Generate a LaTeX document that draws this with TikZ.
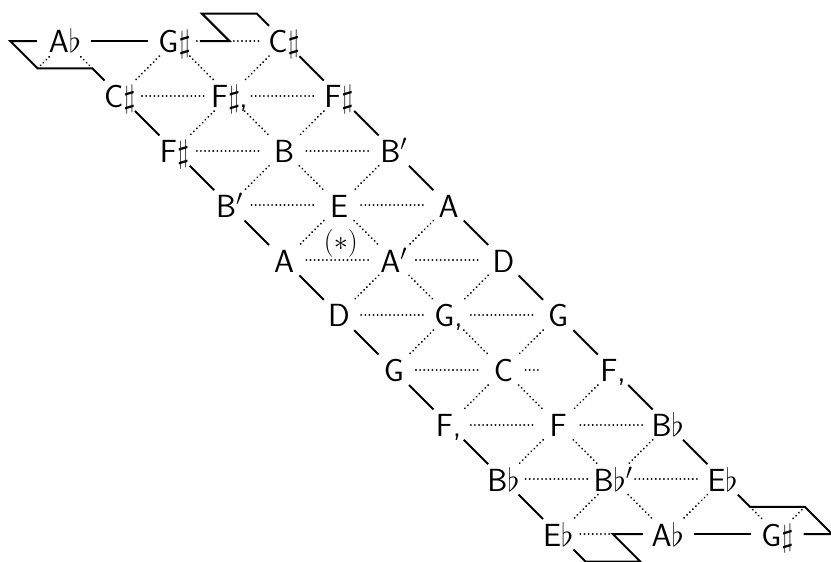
\documentclass[tikz,border=0pt]{standalone}
\usepackage{fix-cm}
\usetikzlibrary{calc}
\tikzset{
  nd/.style={rectangle, inner sep=0pt, minimum width=44pt, minimum height=30pt,
    text height=23.6pt, text depth=0pt, font=\fontsize{32}{37}\selectfont\sffamily},
  dotl/.style={line width=2.1pt, line cap=round, dash pattern=on 0.01pt off 4.1pt},
  bd/.style={line width=2pt, line cap=butt, line join=miter},
  starlbl/.style={inner sep=0pt, font=\fontsize{28}{32}\selectfont},
}
\begin{document}
\begin{tikzpicture}[x=1pt,y=-1pt]
\useasboundingbox (0,0) rectangle (831,562);
\clip (0,0) rectangle (831,562);
\begin{scope}[shift={(65,41)}, x={(109.6pt,0pt)}, y={(54.8pt,-54.8pt)}]
\node[nd] (L0) at (0,0) {A$\flat$};
\node[nd] (M0) at (1,0) {G$\sharp$};
\node[nd] (R0) at (2,0) {C$\sharp$};
\node[nd] (L1) at (0,1) {C$\sharp$};
\node[nd] (M1) at (1,1) {F$\sharp$\kern-1pt,};
\node[nd] (R1) at (2,1) {F$\sharp$};
\node[nd] (L2) at (0,2) {F$\sharp$};
\node[nd] (M2) at (1,2) {B};
\node[nd] (R2) at (2,2) {B$'$};
\node[nd] (L3) at (0,3) {B$'$};
\node[nd] (M3) at (1,3) {E};
\node[nd] (R3) at (2,3) {A};
\node[nd] (L4) at (0,4) {A};
\node[nd] (M4) at (1,4) {A$'$};
\node[nd] (R4) at (2,4) {D};
\node[nd] (L5) at (0,5) {D};
\node[nd] (M5) at (1,5) {G,};
\node[nd] (R5) at (2,5) {G};
\node[nd] (L6) at (0,6) {G};
\node[nd] (M6) at (1,6) {C};
\node[nd] (R6) at (2,6) {F,};
\node[nd] (L7) at (0,7) {F,};
\node[nd] (M7) at (1,7) {F};
\node[nd] (R7) at (2,7) {B$\flat$};
\node[nd] (L8) at (0,8) {B$\flat$};
\node[nd] (M8) at (1,8) {B$\flat'$};
\node[nd] (R8) at (2,8) {E$\flat$};
\node[nd] (L9) at (0,9) {E$\flat$};
\node[nd] (M9) at (1,9) {A$\flat$};
\node[nd] (R9) at (2,9) {G$\sharp$};
\node[starlbl] (star) at (0.667,3.7) {$(*)$};
\coordinate (tl1) at (0,0.5);
\coordinate (tl2) at (-0.5,0.5);
\coordinate (tl3) at (-0.5,0);
\coordinate (tr1) at (1.5,0);
\coordinate (tr2) at (1.5,-0.5);
\coordinate (tr3) at (2,-0.5);
\coordinate (br1) at (2,8.5);
\coordinate (br2) at (2.5,8.5);
\coordinate (br3) at (2.5,9);
\coordinate (bl1) at (0.5,9);
\coordinate (bl2) at (0.5,9.5);
\coordinate (bl3) at (0,9.5);
\coordinate (cs) at (1.32,6);
% dotted horizontals
\foreach \j in {1,...,9} \draw[dotl] (L\j) -- (M\j);
\foreach \j in {0,1,2,3,4,5,7,8} \draw[dotl] (M\j) -- (R\j);
\draw[dotl] (M6) -- (cs);
% dotted diagonals
\foreach \j in {0,...,8}{
  \pgfmathtruncatemacro\k{\j+1}
  \draw[dotl] (M\j) -- (L\k);
  \draw[dotl] (M\j) -- (M\k);
  \draw[dotl] (R\j) -- (M\k);
}
% solid boundaries
\foreach \j in {1,...,8}{
  \pgfmathtruncatemacro\k{\j+1}
  \draw[bd] (L\j) -- (L\k);
}
\foreach \j in {0,...,7}{
  \pgfmathtruncatemacro\k{\j+1}
  \draw[bd] (R\j) -- (R\k);
}
\draw[bd, shorten <=4pt, shorten >=4pt] (L0) -- (M0);
\draw[bd, shorten <=4pt, shorten >=4pt] (M9) -- (R9);
% half edges
\draw[dotl] (tl1) -- (L0);
\draw[dotl] (tl2) -- (L0);
\draw[dotl] (br1) -- (R9);
\draw[dotl] (br2) -- (R9);
% corner boundary paths
\draw[bd, shorten >=6pt] (L1) -- (tl1) -- (tl2) -- (tl3) -- (L0);
\draw[bd, shorten <=3pt] (M0) -- (tr1) -- (tr2) -- (tr3) -- (R0);
\draw[bd, shorten >=4pt] (R8) -- (br1) -- (br2) -- (br3) -- (R9);
\draw[bd, shorten <=3pt] (M9) -- (bl1) -- (bl2) -- (bl3) -- (L9);
\end{scope}
\end{tikzpicture}
\end{document}
